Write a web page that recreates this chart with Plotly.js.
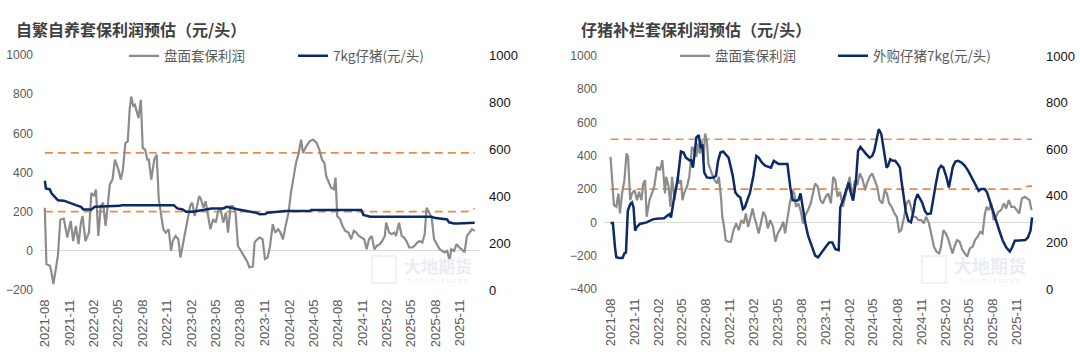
<!DOCTYPE html>
<html>
<head>
<meta charset="utf-8">
<script src="https://cdn.plot.ly/plotly-3.0.1.min.js"></script>
<style>
html,body{margin:0;padding:0;background:#fff;}
#chart{width:1080px;height:355px;}
</style>
</head>
<body>
<div id="chart"></div>
<script>
// ---------- Left chart: 自繁自养套保利润预估 ----------
const leftTitle = '自繁自养套保利润预估（元/头）';
const leftProfitName = '盘面套保利润';
const leftPigletName = '7kg仔猪(元/头)';
const leftProfitDates = ['2021-08-01','2021-08-07','2021-08-20','2021-08-26','2021-09-02','2021-09-09','2021-09-19','2021-09-28','2021-10-11','2021-10-24','2021-11-06','2021-11-15','2021-11-25','2021-12-05','2021-12-14','2021-12-20','2021-12-31','2022-01-13','2022-01-22','2022-02-01','2022-02-08','2022-02-17','2022-02-26','2022-03-07','2022-03-16','2022-03-24','2022-04-01','2022-04-11','2022-04-20','2022-05-03','2022-05-12','2022-05-20','2022-05-29','2022-06-07','2022-06-14','2022-06-20','2022-06-28','2022-07-04','2022-07-11','2022-07-17','2022-07-26','2022-08-02','2022-08-11','2022-08-19','2022-08-25','2022-09-03','2022-09-14','2022-09-23','2022-10-01','2022-10-09','2022-10-18','2022-10-27','2022-11-07','2022-11-16','2022-11-22','2022-12-03','2022-12-13','2022-12-21','2022-12-29','2023-01-08','2023-01-17','2023-01-26','2023-02-03','2023-02-12','2023-02-21','2023-03-01','2023-03-08','2023-03-17','2023-03-25','2023-04-03','2023-04-12','2023-04-22','2023-05-02','2023-05-11','2023-05-20','2023-05-30','2023-06-09','2023-06-17','2023-06-26','2023-07-05','2023-07-15','2023-07-24','2023-08-03','2023-08-16','2023-08-26','2023-09-05','2023-09-18','2023-09-24','2023-10-04','2023-10-13','2023-10-24','2023-11-02','2023-11-12','2023-11-21','2023-12-01','2023-12-10','2023-12-21','2023-12-30','2024-01-08','2024-01-18','2024-01-29','2024-02-07','2024-02-16','2024-02-26','2024-03-07','2024-03-16','2024-03-23','2024-04-04','2024-04-17','2024-04-30','2024-05-13','2024-05-23','2024-06-02','2024-06-11','2024-06-18','2024-06-27','2024-07-06','2024-07-16','2024-07-23','2024-07-29','2024-08-09','2024-08-18','2024-08-28','2024-09-09','2024-09-19','2024-09-29','2024-10-08','2024-10-18','2024-10-27','2024-11-07','2024-11-16','2024-11-25','2024-12-05','2024-12-15','2024-12-24','2025-01-04','2025-01-13','2025-01-23','2025-01-28','2025-02-08','2025-02-18','2025-02-27','2025-03-06','2025-03-17','2025-03-27','2025-04-05','2025-04-14','2025-04-24','2025-05-05','2025-05-14','2025-05-24','2025-06-02','2025-06-12','2025-06-21','2025-06-28','2025-07-07','2025-07-17','2025-07-26','2025-08-06','2025-08-16','2025-08-25','2025-09-03','2025-09-13','2025-09-22','2025-09-28','2025-10-09','2025-10-18','2025-10-28','2025-11-07','2025-11-17','2025-11-26','2025-12-06','2025-12-15','2025-12-25'];
const leftProfit = [220,-68,-76,-110,-170,-110,-25,160,165,68,152,50,127,34,144,178,50,93,296,280,313,76,228,246,127,228,339,364,466,415,364,415,550,559,720,788,737,745,703,678,771,525,517,466,466,364,466,491,263,178,110,93,110,0,50,76,59,-34,25,93,144,228,246,178,228,280,263,220,254,178,110,161,144,203,212,144,195,93,228,228,195,25,0,-25,-51,-85,-80,42,59,68,59,-42,-34,25,136,93,110,93,59,127,195,296,364,449,500,568,500,534,559,568,551,517,466,449,381,347,322,314,373,178,161,127,102,93,59,102,93,76,68,59,8,59,76,8,25,34,50,76,144,93,85,93,76,144,76,68,50,17,17,25,42,50,42,85,220,195,170,59,34,8,0,-8,0,-51,8,0,34,17,8,-8,76,93,110,102];
const leftPigletDates = ['2021-08-01','2021-08-05','2021-08-20','2021-08-26','2021-09-09','2021-09-19','2021-10-11','2021-10-30','2021-11-25','2021-12-14','2021-12-23','2022-01-22','2022-02-04','2022-05-09','2022-05-16','2022-11-26','2022-12-09','2022-12-29','2023-01-11','2023-02-06','2023-03-15','2023-04-16','2023-05-30','2023-06-12','2023-07-21','2023-08-28','2023-09-30','2023-10-13','2023-11-02','2023-11-12','2024-01-05','2024-01-18','2024-04-17','2024-04-23','2024-10-27','2024-11-04','2024-11-29','2025-07-17','2025-07-26','2025-09-13','2025-09-20','2025-10-09','2025-10-22','2025-12-25'];
const leftPiglet = [465,432,428,411,394,382,380,371,361,354,343,343,354,358,361,361,347,343,333,333,340,347,347,354,344,336,329,322,323,329,333,336,336,340,340,319,312,312,307,300,288,283,283,286];
const leftBandDates = ['2021-08-01','2025-12-25'];
const leftUpperBand = [500,500];
const leftLowerDates = ['2021-08-01','2025-11-25','2025-12-18','2025-12-25'];
const leftLowerBand = [200,200,215,215];

// ---------- Right chart: 仔猪补栏套保利润预估 ----------
const rightTitle = '仔猪补栏套保利润预估（元/头）';
const rightProfitName = '盘面套保利润';
const rightPigletName = '外购仔猪7kg(元/头)';
const rightProfitDates = ['2021-08-01','2021-08-07','2021-08-14','2021-08-23','2021-08-31','2021-09-06','2021-09-14','2021-09-23','2021-10-01','2021-10-07','2021-10-15','2021-10-22','2021-11-01','2021-11-10','2021-11-18','2021-11-27','2021-12-04','2021-12-11','2021-12-17','2021-12-28','2022-01-06','2022-01-15','2022-01-26','2022-02-06','2022-02-15','2022-02-25','2022-03-02','2022-03-11','2022-03-18','2022-03-24','2022-04-03','2022-04-14','2022-04-20','2022-04-27','2022-05-03','2022-05-09','2022-05-20','2022-05-29','2022-06-08','2022-06-16','2022-06-25','2022-07-01','2022-07-08','2022-07-15','2022-07-23','2022-07-28','2022-08-04','2022-08-10','2022-08-23','2022-09-03','2022-09-12','2022-09-19','2022-09-28','2022-10-02','2022-10-09','2022-10-15','2022-10-25','2022-11-04','2022-11-14','2022-11-24','2022-12-04','2022-12-14','2022-12-23','2022-12-31','2023-01-09','2023-01-19','2023-01-26','2023-02-01','2023-02-09','2023-02-18','2023-02-28','2023-03-08','2023-03-17','2023-03-25','2023-04-03','2023-04-14','2023-04-23','2023-05-02','2023-05-13','2023-05-23','2023-05-30','2023-06-08','2023-06-17','2023-06-28','2023-07-04','2023-07-11','2023-07-20','2023-07-28','2023-08-07','2023-08-16','2023-08-26','2023-09-05','2023-09-15','2023-09-22','2023-10-02','2023-10-12','2023-10-21','2023-11-01','2023-11-11','2023-11-21','2023-11-30','2023-12-08','2023-12-17','2023-12-26','2024-01-06','2024-01-15','2024-01-23','2024-02-01','2024-02-10','2024-02-21','2024-03-01','2024-03-11','2024-03-22','2024-03-31','2024-04-07','2024-04-17','2024-04-27','2024-05-05','2024-05-16','2024-05-25','2024-06-05','2024-06-14','2024-06-22','2024-07-01','2024-07-10','2024-07-21','2024-07-30','2024-08-08','2024-08-16','2024-08-27','2024-09-05','2024-09-14','2024-09-22','2024-10-01','2024-10-10','2024-10-21','2024-11-01','2024-11-10','2024-11-19','2024-11-30','2024-12-09','2024-12-19','2024-12-29','2025-01-08','2025-01-15','2025-01-24','2025-02-02','2025-02-11','2025-02-20','2025-02-28','2025-03-07','2025-03-17','2025-03-27','2025-04-07','2025-04-16','2025-04-25','2025-05-05','2025-05-16','2025-05-25','2025-06-04','2025-06-14','2025-06-23','2025-07-01','2025-07-08','2025-07-17','2025-07-26','2025-08-04','2025-08-13','2025-08-22','2025-09-02','2025-09-12','2025-09-21','2025-10-01','2025-10-11','2025-10-22','2025-11-01','2025-11-10','2025-11-20','2025-12-01','2025-12-10','2025-12-19','2025-12-27'];
const rightProfit = [394,234,104,94,174,54,174,254,414,394,134,174,194,134,184,134,234,254,34,134,174,214,334,314,374,174,274,214,94,274,134,274,234,254,134,174,214,274,454,434,394,474,414,494,374,534,494,354,294,254,234,274,134,34,-26,-106,-116,-116,-46,-6,-46,14,-6,54,-26,34,84,34,-6,-66,14,64,34,-36,14,-26,-116,-66,-36,4,-66,34,114,194,174,94,114,74,-6,44,74,114,194,234,214,134,114,154,174,114,274,254,154,184,94,154,224,274,154,254,224,294,254,194,234,274,294,264,214,134,114,194,174,114,94,54,34,-56,-46,34,114,134,94,34,34,14,14,-6,34,-6,-66,-146,-176,-186,-146,-46,-66,-96,-146,-186,-146,-106,-116,-166,-186,-206,-156,-146,-106,-86,-56,-66,44,94,74,114,14,34,64,74,114,84,134,94,94,74,54,144,154,144,134,74];
const rightPigletDates = ['2021-08-01','2021-08-10','2021-08-18','2021-08-23','2021-09-03','2021-09-16','2021-09-23','2021-09-29','2021-10-06','2021-10-15','2021-10-22','2021-10-28','2021-11-03','2021-11-08','2021-11-21','2021-12-04','2021-12-17','2021-12-30','2022-01-13','2022-02-02','2022-02-22','2022-03-05','2022-03-15','2022-03-20','2022-03-26','2022-04-03','2022-04-14','2022-04-27','2022-05-07','2022-05-16','2022-05-29','2022-06-05','2022-06-12','2022-06-18','2022-06-25','2022-07-04','2022-07-12','2022-07-18','2022-07-25','2022-08-04','2022-08-17','2022-08-30','2022-09-08','2022-09-16','2022-09-25','2022-10-05','2022-10-15','2022-10-26','2022-11-04','2022-11-11','2022-11-21','2022-12-01','2022-12-10','2022-12-20','2022-12-27','2023-01-05','2023-01-16','2023-01-29','2023-02-09','2023-02-18','2023-03-02','2023-03-15','2023-03-28','2023-04-06','2023-04-17','2023-04-27','2023-05-06','2023-05-26','2023-06-08','2023-06-19','2023-06-28','2023-07-11','2023-07-20','2023-07-28','2023-08-07','2023-08-16','2023-08-26','2023-09-09','2023-09-22','2023-10-03','2023-10-16','2023-11-01','2023-11-14','2023-11-27','2023-12-08','2023-12-21','2023-12-27','2024-01-06','2024-01-19','2024-01-28','2024-02-05','2024-02-14','2024-02-25','2024-03-04','2024-03-13','2024-03-24','2024-04-04','2024-04-17','2024-04-27','2024-05-05','2024-05-13','2024-05-22','2024-06-01','2024-06-11','2024-06-21','2024-06-27','2024-07-05','2024-07-14','2024-07-24','2024-08-03','2024-08-11','2024-08-16','2024-08-23','2024-09-02','2024-09-12','2024-09-22','2024-10-01','2024-10-08','2024-10-17','2024-10-28','2024-11-04','2024-11-14','2024-11-23','2024-12-07','2024-12-16','2024-12-26','2025-01-06','2025-01-15','2025-01-24','2025-02-05','2025-02-14','2025-02-22','2025-03-01','2025-03-11','2025-03-21','2025-04-03','2025-04-16','2025-04-29','2025-05-12','2025-05-25','2025-06-08','2025-06-17','2025-07-01','2025-07-10','2025-07-20','2025-07-30','2025-08-13','2025-08-26','2025-09-08','2025-09-21','2025-10-05','2025-10-14','2025-10-24','2025-11-13','2025-12-03','2025-12-13','2025-12-23','2025-12-29'];
const rightPiglet = [283,283,179,136,133,133,153,157,336,364,371,350,250,264,279,281,286,293,300,303,304,314,321,307,350,407,464,590,586,564,553,553,521,593,650,661,604,621,500,479,476,479,486,550,586,590,579,564,521,486,414,400,393,343,350,379,414,486,571,564,543,529,524,521,550,543,536,536,536,436,381,379,381,410,336,279,229,179,143,136,157,181,200,200,171,167,350,379,421,457,414,379,464,593,610,593,579,564,571,593,636,686,664,600,521,529,557,550,550,536,521,471,414,336,293,286,329,379,407,386,371,336,321,324,393,450,514,529,521,479,436,493,524,547,550,543,529,507,479,450,421,429,429,414,379,336,293,250,207,179,161,179,207,210,210,221,250,307];
const rightBandDates = ['2021-08-01','2025-12-29'];
const rightUpperBand = [500,500];
const rightLowerDates = ['2021-08-01','2025-11-20','2025-12-13','2025-12-29'];
const rightLowerBand = [200,200,218,218];

// ---------- Axes labels ----------
const leftAxisTicks = [-200,0,200,400,600,800,1000];
const rightLeftAxisTicks = [-400,-200,0,200,400,600,800,1000];
const secondaryTicks = [0,200,400,600,800,1000];
const watermarkCn = '大地期货';
const watermarkEn = 'D A D I  F U T U R E S';

// ---------- Styles ----------
const GRAY = '#8c8c8c';
const NAVY = '#0c2a68';
const ORANGE = '#ee8a45';
const CN = '"Noto Sans CJK SC", "Noto Sans", sans-serif';
const NUM = '"Liberation Sans", Arial, sans-serif';
const W = 1080, H = 355;
const px = v => v / W;
const py = v => 1 - v / H;

function dashTrace(x, y, xa, ya) {
  return {x: x, y: y, xaxis: xa, yaxis: ya, type: 'scatter', mode: 'lines',
    line: {color: ORANGE, width: 1.6, dash: '8px,5px'}, showlegend: false, hoverinfo: 'skip'};
}

const traces = [
  dashTrace(leftBandDates, leftUpperBand, 'x', 'y'),
  dashTrace(leftLowerDates, leftLowerBand, 'x', 'y'),
  {x: leftProfitDates, y: leftProfit, xaxis: 'x', yaxis: 'y', type: 'scatter', mode: 'lines',
   name: leftProfitName, line: {color: GRAY, width: 2.2}, legend: 'legend'},
  {x: leftPigletDates, y: leftPiglet, xaxis: 'x', yaxis: 'y2', type: 'scatter', mode: 'lines',
   name: leftPigletName, line: {color: NAVY, width: 2.5}, legend: 'legend2'},

  dashTrace(rightBandDates, rightUpperBand, 'x2', 'y3'),
  dashTrace(rightLowerDates, rightLowerBand, 'x2', 'y3'),
  {x: rightProfitDates, y: rightProfit, xaxis: 'x2', yaxis: 'y3', type: 'scatter', mode: 'lines',
   name: rightProfitName, line: {color: GRAY, width: 2.2}, legend: 'legend3'},
  {x: rightPigletDates, y: rightPiglet, xaxis: 'x2', yaxis: 'y4', type: 'scatter', mode: 'lines',
   name: rightPigletName, line: {color: NAVY, width: 2.5}, legend: 'legend4'}
];

function xAxis(domain, range, anchor) {
  return {domain: domain, range: range, type: 'date', anchor: anchor,
    tick0: '2021-08-01', dtick: 'M3', tickformat: '%Y-%m', tickangle: -90,
    showgrid: false, zeroline: false, showline: false, ticks: '',
    ticklabelstandoff: 6,
    tickfont: {family: NUM, size: 13, color: '#595959'}, fixedrange: true};
}
function yLeft(domain, range, ticks, anchor) {
  return {domain: domain, range: range, anchor: anchor, tickvals: ticks,
    showgrid: false, zeroline: true, zerolinecolor: '#d9d9d9', zerolinewidth: 1,
    showline: false, ticks: '', ticklabelstandoff: 6,
    tickfont: {family: NUM, size: 12, color: '#595959'}, fixedrange: true};
}
function yRight(overlay, anchor) {
  return {overlaying: overlay, side: 'right', anchor: anchor, range: [0, 1000], tickvals: secondaryTicks,
    showgrid: false, zeroline: false, showline: false, ticks: '', ticklabelstandoff: 9,
    tickfont: {family: NUM, size: 13, color: '#111111'}, fixedrange: true};
}
function legendAt(xpx) {
  return {x: px(xpx), xanchor: 'left', y: py(56), yanchor: 'middle', orientation: 'h',
    bgcolor: 'rgba(0,0,0,0)', borderwidth: 0,
    font: {family: CN, size: 13.5, color: '#595959'}};
}
function watermark(cx, size) {
  return [
    {text: '<b>' + watermarkCn + '</b>', xref: 'paper', yref: 'paper', x: px(cx), y: py(265),
     xanchor: 'center', yanchor: 'middle', showarrow: false,
     font: {family: CN, size: size, color: '#e9edf3'}},
    {text: watermarkEn, xref: 'paper', yref: 'paper', x: px(cx), y: py(281),
     xanchor: 'center', yanchor: 'middle', showarrow: false,
     font: {family: NUM, size: 6, color: '#e9edf3'}}
  ];
}

const layout = {
  width: W, height: H,
  margin: {l: 0, r: 0, t: 0, b: 0},
  paper_bgcolor: '#ffffff', plot_bgcolor: '#ffffff',
  font: {family: CN},
  xaxis: xAxis([px(40), px(479)], ['2021-07-14', '2026-01-10'], 'y'),
  yaxis: yLeft([py(290), py(55)], [-200, 1000], leftAxisTicks, 'x'),
  yaxis2: yRight('y', 'x'),
  xaxis2: xAxis([px(604), px(1036)], ['2021-07-07', '2026-01-13'], 'y3'),
  yaxis3: yLeft([py(289), py(56)], [-400, 1000], rightLeftAxisTicks, 'x2'),
  yaxis4: yRight('y3', 'x2'),
  legend: legendAt(124),
  legend2: legendAt(293),
  legend3: legendAt(675),
  legend4: legendAt(833),
  annotations: [
    {text: '<b>' + leftTitle + '</b>', xref: 'paper', yref: 'paper', x: px(14), y: py(29),
     xanchor: 'left', yanchor: 'middle', showarrow: false,
     font: {family: CN, size: 16, color: '#404040'}},
    {text: '<b>' + rightTitle + '</b>', xref: 'paper', yref: 'paper', x: px(579), y: py(29),
     xanchor: 'left', yanchor: 'middle', showarrow: false,
     font: {family: CN, size: 16, color: '#404040'}}
  ].concat(watermark(438, 17), watermark(990, 18)),
  shapes: [
    {type: 'rect', xref: 'paper', yref: 'paper', x0: px(372), x1: px(396), y0: py(283), y1: py(256),
     line: {color: '#eef1f5', width: 2}, layer: 'below'},
    {type: 'rect', xref: 'paper', yref: 'paper', x0: px(922), x1: px(946), y0: py(283), y1: py(256),
     line: {color: '#eef1f5', width: 2}, layer: 'below'}
  ],
  showlegend: true
};

Plotly.newPlot('chart', traces, layout, {staticPlot: true, displayModeBar: false});
</script>
</body>
</html>
